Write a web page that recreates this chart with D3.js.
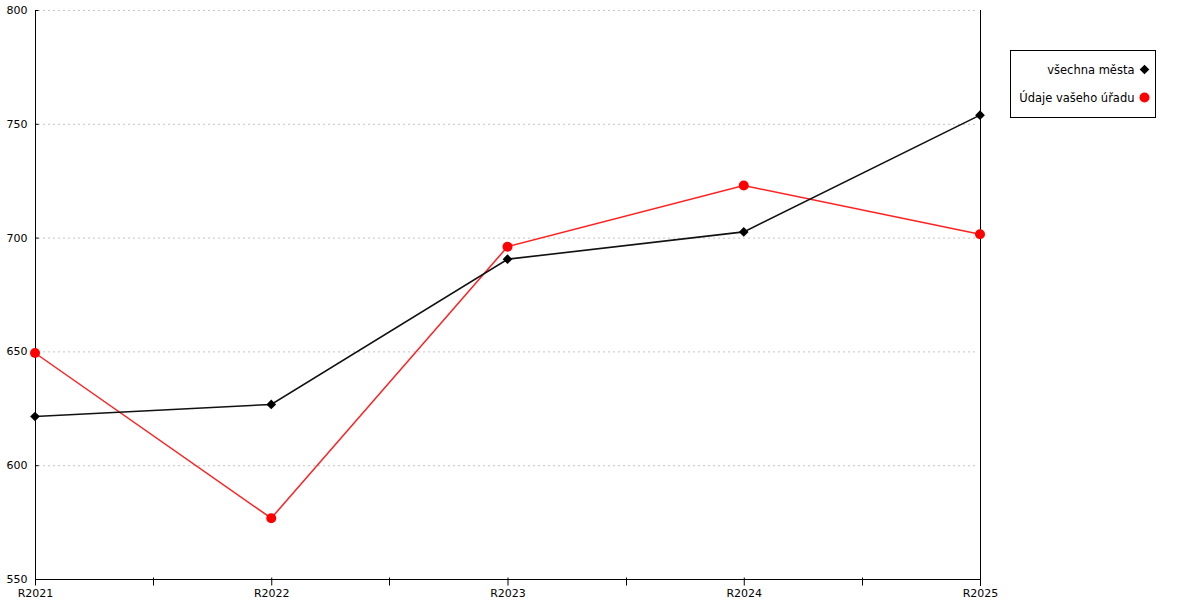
<!DOCTYPE html>
<html>
<head>
<meta charset="utf-8">
<script src="https://cdn.jsdelivr.net/npm/d3@7"></script>
<style>
  body { margin: 0; background: #fff; }
  text { font-family: "DejaVu Sans", Verdana, sans-serif; font-size: 11px; fill: #000; }
  .legend text { font-size: 11.5px; }
</style>
</head>
<body>
<div id="chart"></div>
<script>
var categories = ["R2021", "R2022", "R2023", "R2024", "R2025"];
var vsechnaMesta = [621.4, 626.7, 690.5, 702.5, 753.8];
var vasUrad = [649.3, 576.7, 696.0, 722.9, 701.5];
var yTicks = [550, 600, 650, 700, 750, 800];
var seriesNames = ["všechna města", "Údaje vašeho úřadu"];

var width = 1200, height = 600;
var plotLeft = 35, plotRight = 980, plotTop = 10, plotBottom = 579;

var svg = d3.select("#chart").append("svg")
    .attr("width", width)
    .attr("height", height);

var x = d3.scalePoint().domain(categories).range([plotLeft, plotRight]);
var y = d3.scaleLinear().domain([550, 800]).range([plotBottom, plotTop]);

// grid
svg.append("g").selectAll("line")
    .data(yTicks.filter(function(d) { return d > 550; }))
  .enter().append("line")
    .attr("x1", plotLeft + 3).attr("x2", plotRight - 3)
    .attr("y1", function(d) { return y(d) + 0.5; })
    .attr("y2", function(d) { return y(d) + 0.5; })
    .attr("stroke", "#c4c4c4")
    .attr("stroke-dasharray", "2,3");

// y axis
var yAxis = svg.append("g")
    .attr("transform", "translate(" + (plotLeft + 0.5) + ",0)")
    .call(d3.axisLeft(y).tickValues(yTicks).tickSize(5).tickPadding(3));
yAxis.select(".domain").remove();
yAxis.selectAll(".tick line").attr("x2", 3).attr("stroke", "#000");
yAxis.selectAll(".tick text").attr("font-size", null).attr("font-family", null);
yAxis.append("line").attr("y1", plotTop).attr("y2", plotBottom).attr("stroke", "#000");

// right axis line
svg.append("line")
    .attr("x1", plotRight + 0.5).attr("x2", plotRight + 0.5)
    .attr("y1", plotTop).attr("y2", plotBottom + 7)
    .attr("stroke", "#000");

// x axis with minor ticks between categories
var mids = d3.pairs(categories).map(function(p) { return (x(p[0]) + x(p[1])) / 2; });
var xAxis = svg.append("g")
    .attr("transform", "translate(0," + (plotBottom + 0.5) + ")")
    .call(d3.axisBottom(x).tickSize(6).tickPadding(4));
xAxis.select(".domain").remove();
xAxis.selectAll(".tick line").attr("y1", -2).attr("stroke", "#000");
xAxis.selectAll(".tick text").attr("font-size", null).attr("font-family", null);
xAxis.append("line").attr("x1", plotLeft).attr("x2", plotRight).attr("stroke", "#000");
xAxis.selectAll(".minor").data(mids).enter().append("line")
    .attr("class", "minor")
    .attr("x1", function(d) { return Math.round(d) + 0.5; })
    .attr("x2", function(d) { return Math.round(d) + 0.5; })
    .attr("y1", -2).attr("y2", 6)
    .attr("stroke", "#000");

var line = d3.line()
    .x(function(d, i) { return x(categories[i]); })
    .y(function(d) { return y(d); });

// red series
svg.append("path").datum(vasUrad)
    .attr("d", line).attr("fill", "none")
    .attr("stroke", "#ff2020").attr("stroke-width", 1.5);

// black series
svg.append("path").datum(vsechnaMesta)
    .attr("d", line).attr("fill", "none")
    .attr("stroke", "#111").attr("stroke-width", 1.6);

var diamond = d3.symbol().type(d3.symbolDiamond2).size(60);

svg.append("g").selectAll("circle").data(vasUrad).enter().append("circle")
    .attr("cx", function(d, i) { return x(categories[i]); })
    .attr("cy", function(d) { return y(d); })
    .attr("r", 5).attr("fill", "#f00");

svg.append("g").selectAll("path").data(vsechnaMesta).enter().append("path")
    .attr("d", diamond)
    .attr("transform", function(d, i) { return "translate(" + x(categories[i]) + "," + y(d) + ")"; })
    .attr("fill", "#000");

// legend
var lg = svg.append("g").attr("class", "legend").attr("transform", "translate(1010.5,50.5)");
lg.append("rect").attr("width", 145).attr("height", 67)
    .attr("fill", "#fff").attr("stroke", "#000");
seriesNames.forEach(function(name, i) {
  var row = lg.append("g").attr("transform", "translate(0," + (19 + i * 28) + ")");
  row.append("text").attr("x", 124).attr("dy", "0.35em")
      .attr("text-anchor", "end").text(name);
  if (i === 0) {
    row.append("path").attr("d", diamond).attr("transform", "translate(134,0)").attr("fill", "#000");
  } else {
    row.append("circle").attr("cx", 134).attr("r", 5).attr("fill", "#f00");
  }
});
</script>
</body>
</html>
